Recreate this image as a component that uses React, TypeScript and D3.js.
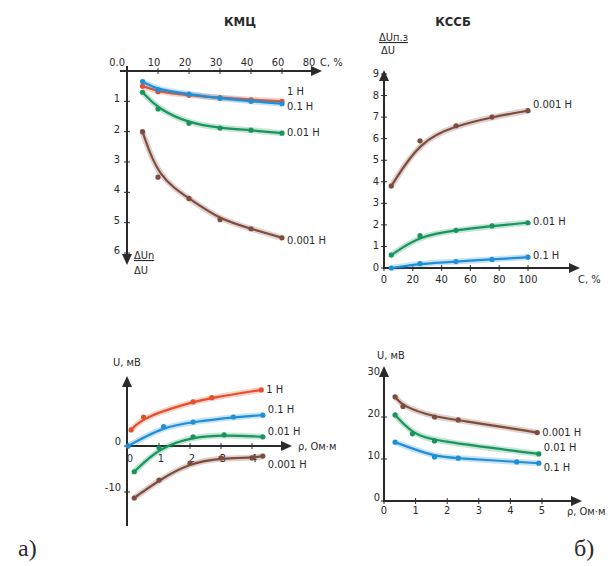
import React from 'react';
import * as d3 from 'd3';

// --- a) КМЦ, top: ΔUn/ΔU against C, %
const kmcC = [5, 10, 20, 30, 40, 50];
const kmc1H = [0.5, 0.68, 0.8, 0.88, 0.95, 1.0];
const kmc01H = [0.35, 0.62, 0.76, 0.9, 1.0, 1.08];
const kmc001H = [0.7, 1.25, 1.72, 1.88, 1.95, 2.05];
const kmc0001H = [2.0, 3.5, 4.2, 4.9, 5.2, 5.5];
const kmcCTicks = [10, 20, 30, 40, 50, 60];
const kmcCTickLabels = ['10', '20', '30', '40', '60', '80'];
const kmcRatioTicks = [1, 2, 3, 4, 5, 6];

// --- б) КССБ, top: ΔUп.з/ΔU against C, %
const kssbC = [5, 25, 50, 75, 100];
const kssb0001H = [3.8, 5.9, 6.6, 7.0, 7.3];
const kssb001H = [0.6, 1.5, 1.75, 1.95, 2.1];
const kssb01H = [0.0, 0.2, 0.3, 0.4, 0.5];
const kssbCTicks = [0, 20, 40, 60, 80, 100];
const kssbRatioTicks = [0, 1, 2, 3, 4, 5, 6, 7, 8, 9];

// --- a) КМЦ, bottom: U, мВ against ρ, Ом·м
const kmcRho1H = [0.1, 0.5, 2.1, 2.7, 4.3];
const kmcU1H = [3.5, 6.3, 9.6, 10.5, 12.2];
const kmcRho01H = [0, 1.15, 2.1, 3.4, 4.35];
const kmcU01H = [0, 4.2, 5.2, 6.3, 6.7];
const kmcRho001H = [0.2, 1.0, 2.1, 3.1, 4.35];
const kmcU001H = [-5.6, -0.4, 2.0, 2.4, 2.0];
const kmcRho0001H = [0.2, 1.0, 2.0, 3.0, 4.0, 4.35];
const kmcU0001H = [-11.3, -7.4, -3.7, -2.6, -2.6, -2.2];
const kmcRhoTicks = [0, 1, 2, 3, 4];
const kmcUTicks = [0, -10];

// --- б) КССБ, bottom: U, мВ against ρ, Ом·м
const kssbRho0001H = [0.35, 0.6, 1.6, 2.35, 4.85];
const kssbU0001H = [24.8, 22.5, 20, 19.3, 16.3];
const kssbRho001H = [0.35, 0.9, 1.6, 4.9];
const kssbU001H = [20.5, 16.0, 14.3, 11.2];
const kssbRho01H = [0.35, 1.6, 2.35, 4.2, 4.9];
const kssbU01H = [14, 10.5, 10.2, 9.3, 9.0];
const kssbRhoTicks = [0, 1, 2, 3, 4, 5];
const kssbUTicks = [0, 10, 20, 30];

const RED = '#e4502c';
const BLUE = '#1f8fd8';
const GREEN = '#17955c';
const BROWN = '#7e4c3c';
const INK = '#2a2a2a';
const FONT = "'Liberation Sans Narrow', 'DejaVu Sans Condensed', 'Liberation Sans', sans-serif";

type Series = { xs: number[]; ys: number[]; color: string; label: string; dx?: number; dy?: number };

const line = (sx: d3.ScaleLinear<number, number>, sy: d3.ScaleLinear<number, number>, s: Series) =>
  d3.line<number>()
    .x((_, i) => sx(s.xs[i]))
    .y(d => sy(d))
    .curve(d3.curveBasis)(s.ys) || '';

const Curves = ({ sx, sy, series }: { sx: any; sy: any; series: Series[] }) => (
  <g>
    {series.map(s => (
      <g key={s.label + s.color}>
        <path d={line(sx, sy, s)} fill="none" stroke={s.color} strokeOpacity={0.25} strokeWidth={6} />
        <path d={line(sx, sy, s)} fill="none" stroke={s.color} strokeWidth={2.2} />
        {s.ys.map((v, i) => (
          <circle key={i} cx={sx(s.xs[i])} cy={sy(v)} r={2.6} fill={s.color} />
        ))}
        <text
          x={sx(s.xs[s.xs.length - 1]) + (s.dx ?? 5)}
          y={sy(s.ys[s.ys.length - 1]) + (s.dy ?? 0)}
          dominantBaseline="middle"
          fontSize={11}
          fill={INK}
          fontFamily={FONT}
        >
          {s.label}
        </text>
      </g>
    ))}
  </g>
);

const arrow = (x: number, y: number, dir: 'r' | 'u' | 'd') => {
  if (dir === 'r') return `M${x},${y}L${x - 11},${y - 5}L${x - 11},${y + 5}Z`;
  if (dir === 'u') return `M${x},${y}L${x - 5},${y + 11}L${x + 5},${y + 11}Z`;
  return `M${x},${y}L${x - 5},${y - 11}L${x + 5},${y - 11}Z`;
};

const txt = { fontFamily: FONT, fontSize: 11, fill: INK } as const;

// top-left: КМЦ ratio
const TopLeft = () => {
  const x = d3.scaleLinear().domain([0, 60]).range([127, 313]);
  const y = d3.scaleLinear().domain([0, 6]).range([71, 253]);
  const series: Series[] = [
    { xs: kmcC, ys: kmc1H, color: RED, label: '1 H', dy: -9 },
    { xs: kmcC, ys: kmc01H, color: BLUE, label: '0.1 H', dy: 3 },
    { xs: kmcC, ys: kmc001H, color: GREEN, label: '0.01 H' },
    { xs: kmcC, ys: kmc0001H, color: BROWN, label: '0.001 H', dy: 3 },
  ];
  return (
    <g>
      <text x={240} y={26} textAnchor="middle" {...txt} fontSize={13} fontWeight="bold">КМЦ</text>
      <line x1={127} y1={66} x2={127} y2={255} stroke={INK} strokeWidth={2} />
      <path d={arrow(127, 265, 'd')} fill={INK} />
      <line x1={120} y1={71} x2={312} y2={71} stroke={INK} strokeWidth={2} />
      <path d={arrow(322, 71, 'r')} fill={INK} />
      <text x={125} y={66} textAnchor="end" {...txt}>0.0</text>
      {kmcCTicks.map((t, i) => (
        <g key={t}>
          <line x1={x(t)} x2={x(t)} y1={68} y2={74} stroke={INK} />
          <text x={x(t) - 4} y={66} textAnchor="middle" {...txt}>{kmcCTickLabels[i]}</text>
        </g>
      ))}
      <text x={320} y={66} {...txt}>C, %</text>
      {kmcRatioTicks.map(t => (
        <g key={t}>
          <line x1={124} x2={130} y1={y(t)} y2={y(t)} stroke={INK} />
          <text x={120} y={y(t) - 2} textAnchor="end" dominantBaseline="middle" {...txt}>{t}</text>
        </g>
      ))}
      <text x={134} y={259} {...txt} textDecoration="underline">ΔUn</text>
      <text x={134} y={274} {...txt}>ΔU</text>
      <Curves sx={x} sy={y} series={series} />
    </g>
  );
};

// top-right: КССБ ratio
const TopRight = () => {
  const x = d3.scaleLinear().domain([0, 100]).range([384, 528]);
  const y = d3.scaleLinear().domain([0, 9]).range([268, 74]);
  const series: Series[] = [
    { xs: kssbC, ys: kssb0001H, color: BROWN, label: '0.001 H', dy: -6 },
    { xs: kssbC, ys: kssb001H, color: GREEN, label: '0.01 H', dy: -1 },
    { xs: kssbC, ys: kssb01H, color: BLUE, label: '0.1 H', dy: -1 },
  ];
  return (
    <g>
      <text x={453} y={26} textAnchor="middle" {...txt} fontSize={13} fontWeight="bold">КССБ</text>
      <text x={379} y={41} {...txt} textDecoration="underline">ΔUп.з</text>
      <text x={381} y={54} {...txt}>ΔU</text>
      <line x1={384} y1={80} x2={384} y2={269} stroke={INK} strokeWidth={2} />
      <path d={arrow(384, 70, 'u')} fill={INK} />
      <line x1={384} y1={268} x2={570} y2={268} stroke={INK} strokeWidth={2} />
      <path d={arrow(580, 268, 'r')} fill={INK} />
      {kssbRatioTicks.map(t => (
        <g key={t}>
          <line x1={381} x2={387} y1={y(t)} y2={y(t)} stroke={INK} />
          <text x={379} y={y(t)} textAnchor="end" dominantBaseline="middle" {...txt}>{t}</text>
        </g>
      ))}
      {kssbCTicks.map(t => (
        <g key={t}>
          <line x1={x(t)} x2={x(t)} y1={265} y2={271} stroke={INK} />
          <text x={x(t)} y={283} textAnchor="middle" {...txt}>{t}</text>
        </g>
      ))}
      <text x={578} y={283} {...txt}>C, %</text>
      <Curves sx={x} sy={y} series={series} />
    </g>
  );
};

// bottom-left: КМЦ potential
const BottomLeft = () => {
  const x = d3.scaleLinear().domain([0, 4]).range([128, 252]);
  const y = d3.scaleLinear().domain([-10, 0]).range([492, 446]);
  const series: Series[] = [
    { xs: kmcRho1H, ys: kmcU1H, color: RED, label: '1 H' },
    { xs: kmcRho01H, ys: kmcU01H, color: BLUE, label: '0.1 H', dy: -5 },
    { xs: kmcRho001H, ys: kmcU001H, color: GREEN, label: '0.01 H', dy: -5 },
    { xs: kmcRho0001H, ys: kmcU0001H, color: BROWN, label: '0.001 H', dy: 9 },
  ];
  return (
    <g>
      <text x={113} y={366} {...txt}>U, мВ</text>
      <line x1={127} y1={386} x2={127} y2={526} stroke={INK} strokeWidth={2} />
      <path d={arrow(127, 376, 'u')} fill={INK} />
      <line x1={127} y1={446} x2={282} y2={446} stroke={INK} strokeWidth={2} />
      <path d={arrow(292, 446, 'r')} fill={INK} />
      {kmcUTicks.map(t => (
        <g key={t}>
          <line x1={124} x2={130} y1={y(t)} y2={y(t)} stroke={INK} />
          <text x={121} y={y(t) - 4} textAnchor="end" dominantBaseline="middle" {...txt}>{t}</text>
        </g>
      ))}
      {kmcRhoTicks.map(t => (
        <g key={t}>
          <line x1={x(t)} x2={x(t)} y1={443} y2={449} stroke={INK} />
          <text x={x(t) + 2} y={462} textAnchor="middle" {...txt}>{t}</text>
        </g>
      ))}
      <text x={298} y={450} {...txt}>ρ, Ом·м</text>
      <Curves sx={x} sy={y} series={series} />
    </g>
  );
};

// bottom-right: КССБ potential
const BottomRight = () => {
  const x = d3.scaleLinear().domain([0, 5]).range([384, 542]);
  const y = d3.scaleLinear().domain([0, 30]).range([501, 375]);
  const series: Series[] = [
    { xs: kssbRho0001H, ys: kssbU0001H, color: BROWN, label: '0.001 H' },
    { xs: kssbRho001H, ys: kssbU001H, color: GREEN, label: '0.01 H', dy: -6 },
    { xs: kssbRho01H, ys: kssbU01H, color: BLUE, label: '0.1 H', dy: 5 },
  ];
  return (
    <g>
      <text x={377} y={359} {...txt}>U, мВ</text>
      <line x1={384} y1={376} x2={384} y2={502} stroke={INK} strokeWidth={2} />
      <path d={arrow(384, 366, 'u')} fill={INK} />
      <line x1={384} y1={501} x2={572} y2={501} stroke={INK} strokeWidth={2} />
      <path d={arrow(582, 501, 'r')} fill={INK} />
      {kssbUTicks.map(t => (
        <g key={t}>
          <line x1={381} x2={387} y1={y(t)} y2={y(t)} stroke={INK} />
          <text x={380} y={y(t) - 3} textAnchor="end" dominantBaseline="middle" {...txt}>{t}</text>
        </g>
      ))}
      {kssbRhoTicks.map(t => (
        <g key={t}>
          <line x1={x(t)} x2={x(t)} y1={498} y2={504} stroke={INK} />
          <text x={x(t)} y={514} textAnchor="middle" {...txt}>{t}</text>
        </g>
      ))}
      <text x={567} y={515} {...txt}>ρ, Ом·м</text>
      <Curves sx={x} sy={y} series={series} />
    </g>
  );
};

export default function App() {
  return (
    <div style={{ position: 'absolute', left: 0, top: 0 }}>
      <svg width={608} height={566} style={{ display: 'block', background: '#fff' }}>
        <TopLeft />
        <TopRight />
        <BottomLeft />
        <BottomRight />
        <text x={18} y={556} fontFamily="'Liberation Serif', serif" fontSize={24} fill={INK}>а)</text>
        <text x={574} y={556} fontFamily="'Liberation Serif', serif" fontSize={24} fill={INK}>б)</text>
      </svg>
    </div>
  );
}
